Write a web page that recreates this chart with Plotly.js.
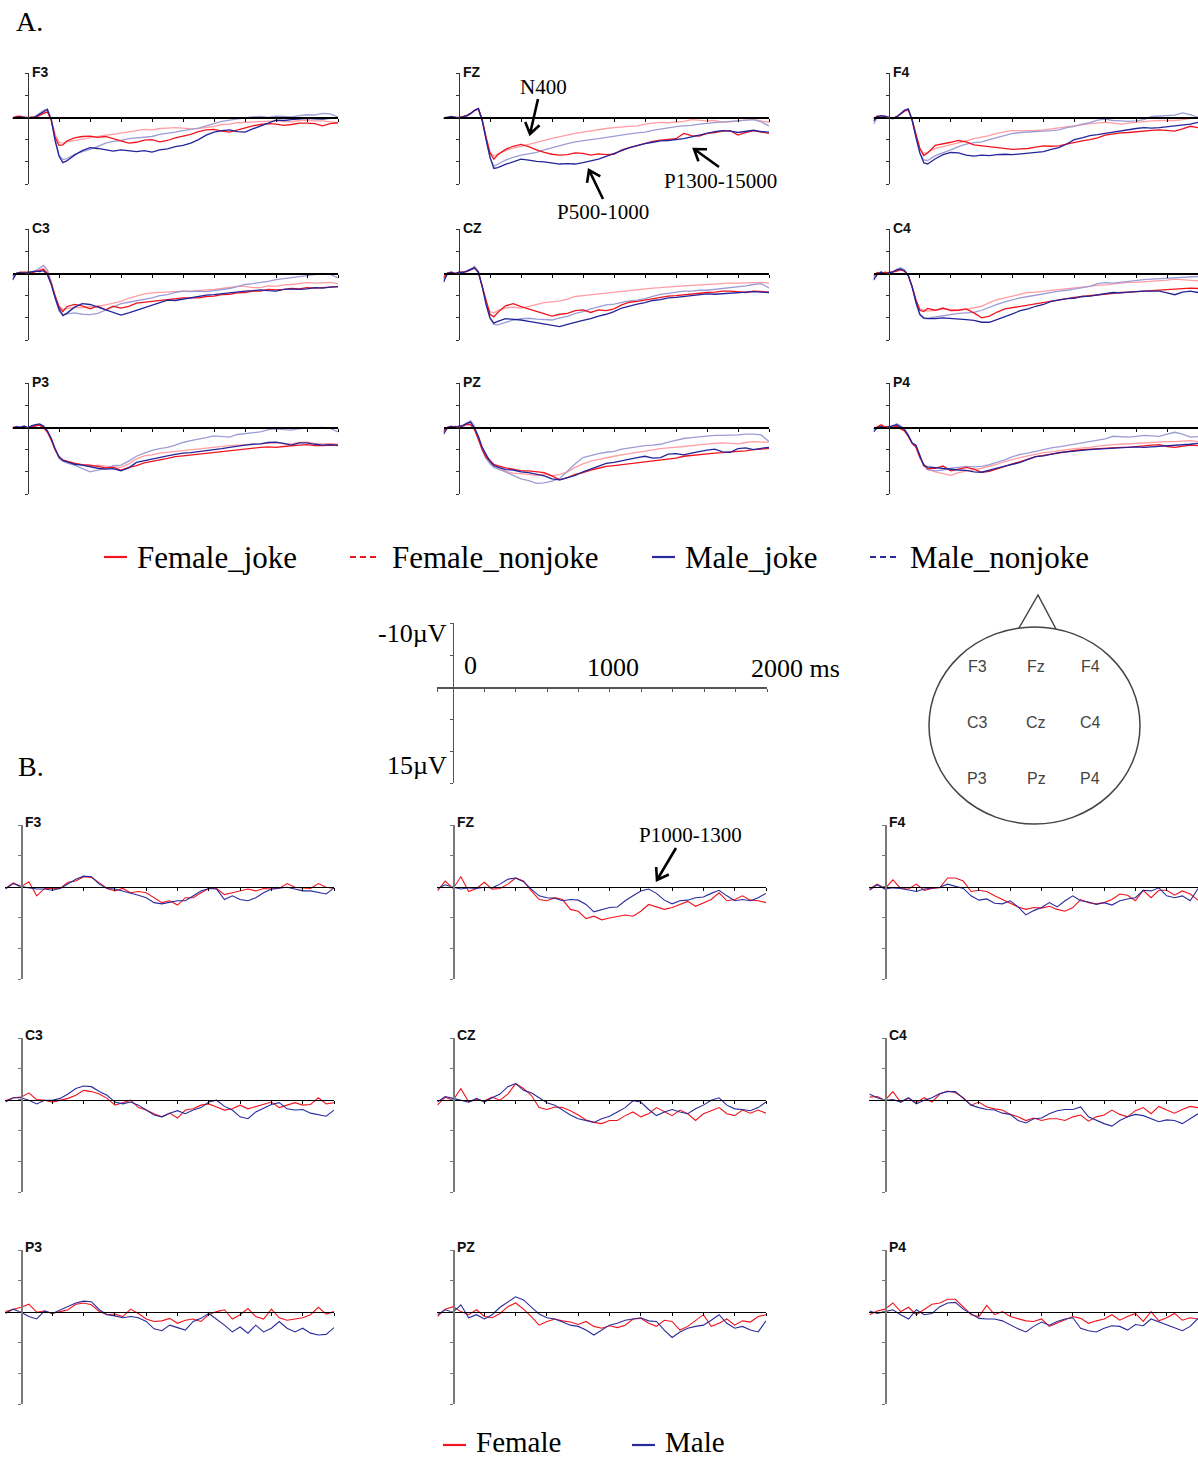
<!DOCTYPE html>
<html><head><meta charset="utf-8">
<script src="https://cdn.plot.ly/plotly-3.0.1.min.js"></script>
<style>html,body{margin:0;padding:0;background:#fff}#chart{width:1198px;height:1459px}</style>
</head><body><div id="chart"></div>
<script>
// ---------- time axes (ms) ----------
const T_A = [-100,-75,-50,-25,0,25,50,75,100,125,150,175,200,225,250,300,350,400,450,500,550,600,650,700,750,800,850,900,950,1000,1050,1100,1150,1200,1250,1300,1350,1400,1450,1500,1550,1600,1650,1700,1750,1800,1850,1900,1950,2000];
const T_B = [-100,-50,0,50,100,150,200,250,300,350,400,450,500,550,600,650,700,750,800,850,900,950,1000,1050,1100,1150,1200,1250,1300,1350,1400,1450,1500,1550,1600,1650,1700,1750,1800,1850,1900,1950,2000];
const CHANNELS = ['F3','FZ','F4','C3','CZ','C4','P3','PZ','P4'];
const LEGEND_A = ['Female_joke','Female_nonjoke','Male_joke','Male_nonjoke'];
const LEGEND_B = ['Female','Male'];

// ---------- Panel A (µV): fj=Female_joke, fn=Female_nonjoke, mj=Male_joke, mn=Male_nonjoke ----------
const A_F3_fj = [0.1,-0.2,-0.3,0,0.1,-0.1,0,-0.5,-0.9,-1.2,0.6,4.5,6.3,6.2,5.3,4.6,4.3,4.2,4.5,4.3,4.8,5.4,5.8,5.6,5.1,5.0,5.5,5.2,4.6,4.2,3.8,3.2,2.8,2.7,3.1,3.3,2.8,2.3,1.9,1.6,1.4,1.5,1.8,1.6,1.3,1.3,1.4,1.9,1.4,1.2];
const A_F3_fn = [0.2,0,0.1,-0.1,0,0.1,-0.2,-0.6,-1.0,-1.3,0.5,3.8,5.6,5.8,5.5,5.2,4.8,4.5,4.3,4.0,3.8,3.5,3.3,3.0,2.7,2.8,2.5,2.4,2.3,2.4,2.6,2.5,2.3,2.0,1.6,1.5,1.2,1.1,1.0,0.9,0.8,0.8,0.9,1.0,0.7,0.6,0.8,0.8,1.0,1.2];
const A_F3_mj = [0.3,0,-0.1,0.1,0.1,0.2,-0.2,-0.7,-1.3,-1.8,0.5,5.2,8.7,10.2,9.8,8.5,7.5,6.8,7,7.3,7.6,7.3,7.5,7.7,7.5,7.8,7.3,7.1,6.6,6.3,5.8,5.0,4.0,3.3,3.0,2.8,3.2,3.3,2.6,2.0,1.3,0.6,0.7,0.5,0.3,0.2,0.3,0.4,0.2,0.2];
const A_F3_mn = [0.2,-0.1,0.1,-0.2,0,0.1,-0.3,-0.9,-1.6,-1.9,0.5,5.0,8.5,9.5,9.3,8.3,7.8,7.2,6.6,5.8,5.4,5.2,4.8,4.6,4.4,4.3,3.8,3.6,3.3,3.0,2.7,2.4,1.9,1.4,0.9,0.6,0.3,0.1,-0.1,-0.2,0.0,-0.3,-0.2,-0.1,-0.4,-0.6,-0.5,-0.9,-0.8,-0.1];

const A_FZ_fj = [0.2,0,-0.1,0.2,0,-0.2,-0.4,-0.9,-1.6,-2.0,0.5,4.5,8,9.4,8.4,7.2,6.5,6.1,6.6,7.3,7.9,8.3,8.5,8.4,8.0,8.1,8.5,8.2,8.4,8.3,7.3,6.8,6.3,5.9,5.4,5.1,5.0,4.8,3.6,4.1,4.2,3.6,3.4,3.1,3.0,4.0,3.4,3.0,3.3,3.6];
const A_FZ_fn = [0.1,-0.1,0,-0.2,0.1,-0.1,-0.3,-0.8,-1.5,-1.9,0.7,4.5,7.8,8.7,8.2,7.5,6.9,6.5,6.1,5.7,5.2,4.7,4.3,4.0,3.6,3.3,3.0,2.7,2.5,2.3,2.1,2.0,1.9,1.5,1.3,1.1,1.2,1.0,0.9,0.5,0.6,0.8,0.7,1.1,1.0,0.8,0.6,0.4,0.8,1.1];
const A_FZ_mj = [0.3,0,-0.2,0,0.1,-0.1,-0.4,-0.9,-1.6,-2.0,0.8,5,9,11.5,11.3,10.6,10.0,9.4,9.6,9.9,10.0,10.2,10.5,10.4,10.5,10.2,9.8,9.4,8.8,8.2,7.5,6.8,6.3,5.9,5.6,5.3,5.2,5.0,4.8,4.4,4.0,3.5,3.2,3.0,3.1,3.4,3.2,2.9,3.2,3.3];
const A_FZ_mn = [0.2,-0.1,0.1,-0.1,0,-0.2,-0.3,-0.8,-1.5,-1.9,0.8,5,9,11,10.5,9.6,9.0,8.5,8.2,7.9,7.3,6.8,6.3,5.9,5.5,5.2,5.0,4.8,4.5,4.2,3.9,3.7,3.5,3.3,2.9,2.6,2.3,2.1,1.9,1.8,1.5,1.3,1.2,1.0,0.9,0.8,0.6,0.5,1.0,1.9];

const A_F4_fj = [0.3,-0.3,0,-0.2,0.1,0.2,-0.2,-0.7,-1.4,-1.7,0.5,4,7,8.6,8.0,6.3,6.0,5.6,5.2,5.5,6.2,6.4,6.5,6.7,7.0,7.2,7.1,7.0,6.7,6.4,6.5,6.4,6.0,5.6,5.3,5.0,4.6,4.0,3.7,3.5,3.4,3.2,3.0,2.9,2.8,2.9,3.1,2.6,2.0,2.3];
const A_F4_fn = [0.1,0,-0.3,0.1,0,0.1,-0.2,-0.7,-1.5,-1.8,0.6,4.2,7,8.1,7.9,7.0,6.6,6.2,5.8,5.3,4.8,4.5,4.1,3.6,3.2,3.0,3.0,3.0,2.9,2.8,2.6,2.3,2.2,2.0,1.7,1.4,1.2,1.1,1.3,1.5,1.3,1.1,1.0,0.8,0.7,0.7,0.7,0.5,0.3,0];
const A_F4_mj = [0.8,-0.2,-0.4,-0.3,0,0.3,-0.1,-0.8,-1.6,-1.9,0.7,4.5,8,10.2,10.5,9.3,8.4,7.9,8.0,8.5,8.7,8.5,8.6,8.4,8.3,8.4,8.2,8.1,7.9,7.7,7.2,6.8,6.0,5.0,4.6,4.1,3.9,3.6,3.3,3.0,2.8,2.5,2.3,2.4,2.3,2.1,1.9,1.8,1.5,1.1];
const A_F4_mn = [1.5,0,-0.3,-0.2,0,0.2,-0.1,-0.8,-1.6,-2.0,0.5,4.5,8,9.6,9.7,8.6,8.0,7.3,6.6,6.0,5.7,5.5,5.0,4.5,4.0,3.6,3.4,3.3,3.3,3.2,3.0,2.8,2.3,2.0,1.5,1.2,0.6,0.4,0.7,0.8,0.9,0.8,0.5,-0.2,-0.3,-0.4,-0.5,-1.0,-0.6,0];

const A_C3_fj = [0.5,0,-0.2,-0.3,-0.2,-0.1,-0.4,-0.6,-0.9,0,2.2,5,7.5,8.6,7.5,7.0,7.3,8.0,7.4,8.2,7.4,7.8,7.4,6.7,6.5,6.3,6.0,5.9,5.6,5.5,5.5,5.5,5.2,5.1,4.8,4.7,4.4,4.3,4.0,4.0,3.6,3.7,3.6,3.4,3.5,3.2,3.3,3.2,3.0,3.0];
const A_C3_fn = [0.3,0.1,-0.1,0,-0.2,-0.3,-0.5,-0.8,-1.1,-0.2,2.0,5,7.4,8.1,7.9,7.7,7.7,7.6,7.4,7.1,6.7,6.3,5.6,5.1,4.6,4.4,4.3,4.2,4.0,4.0,4.0,3.9,3.8,3.6,3.4,3.2,2.9,2.9,3.2,3.2,2.8,2.9,2.6,2.5,2.3,2.1,2.2,2.1,2.0,2.3];
const A_C3_mj = [1.5,0,-0.2,0,-0.2,-0.3,-0.5,-0.4,-0.6,0.3,2.5,5.5,8.0,9.5,9.0,7.6,6.8,7.0,7.6,8.1,8.7,9.4,8.9,8.3,7.8,7.1,6.6,6.0,6.1,5.8,5.4,5.2,4.9,4.8,4.6,4.3,4.2,4.0,3.9,3.7,3.9,4.0,3.6,3.5,3.6,3.5,3.2,3.3,3.1,3.0];
const A_C3_mn = [1.0,0.1,-0.3,-0.1,-0.3,-0.2,-0.6,-1.2,-1.8,-0.8,2,5.5,8.5,9.3,9.1,8.9,9.2,9.3,9.0,8.3,7.6,6.8,6.5,6.2,5.8,5.5,5.0,4.8,4.3,4.0,4.1,4.0,4.1,3.9,3.6,3.4,3.0,2.5,2.3,2.1,1.8,1.4,1.2,1.0,0.8,0.6,0.3,0.0,0.2,1.0];

const A_CZ_fj = [1.0,-0.1,-0.3,0,-0.2,-0.3,-0.4,-0.8,-1.3,-0.2,3,6.5,9.2,9.8,8.8,7.3,6.8,7.5,8.0,8.6,9.0,9.6,9.2,9.0,8.4,8.2,8.8,8.2,8.4,8.0,7.1,6.5,6.3,6.0,5.6,5.4,5.1,5.0,4.8,4.7,4.5,4.3,4.2,4.0,4.0,4.2,4.3,4.0,4.1,4.2];
const A_CZ_fn = [0.8,0,-0.2,0.1,-0.2,-0.2,-0.5,-0.9,-1.4,-0.4,3,6.5,8.6,8.9,8.3,7.8,7.6,7.8,7.4,7.0,6.6,6.4,6.2,5.8,5.2,5.0,4.8,4.7,4.5,4.3,4.1,3.9,3.7,3.5,3.3,3.2,3.0,2.9,2.8,2.7,2.5,2.4,2.3,2.3,2.2,2.2,2.1,2.1,2.0,2.2];
const A_CZ_mj = [2.0,0,-0.2,0.1,-0.3,-0.2,-0.5,-0.9,-1.2,-0.3,3,7,10,11.2,10.8,10.2,10.3,10.5,10.8,11.1,11.3,11.6,12.0,11.5,11.0,10.6,10.2,9.6,9.2,8.6,7.8,7.3,6.9,6.6,6.1,5.9,5.5,5.4,5.2,5.0,4.7,4.6,4.7,4.6,4.5,4.3,4.2,4.1,4.2,4.3];
const A_CZ_mn = [1.5,0.1,-0.3,0,-0.3,-0.1,-0.6,-1.0,-1.6,-0.5,3,7,10.2,11.5,11.6,11.0,10.5,10.2,10.1,10.3,10.4,10.5,10.0,9.7,9.0,8.6,8.0,7.5,7.1,6.9,6.5,6.2,6.0,5.7,5.2,4.7,4.5,4.3,4.0,4.0,3.8,3.8,3.6,3.4,3.3,3.0,2.8,2.5,2.3,3.3];

const A_C4_fj = [0.5,-0.2,0.1,-0.3,-0.1,-0.4,-0.5,-0.8,-0.5,0.5,3,6,8.3,8.6,7.9,8.3,7.8,8.4,8.3,8.0,8.9,10.0,9.6,8.7,8.0,7.7,7.4,7.2,6.8,6.5,6.2,5.9,5.6,5.4,5.2,5.0,4.8,4.6,4.4,4.3,4.2,4.1,4.0,3.9,3.8,3.7,3.5,3.4,3.3,3.4];
const A_C4_fn = [0.3,0,-0.2,0.1,-0.3,-0.2,-0.6,-0.9,-0.7,0.5,3,6,8.0,8.2,8.5,8.3,8.0,8.1,8.2,8.1,7.8,7.4,6.6,5.9,5.5,5.1,4.6,4.3,4.2,4.0,3.8,3.6,3.4,3.2,3.0,2.8,2.7,2.6,2.4,2.2,2.0,2.0,1.9,1.8,1.7,1.5,1.3,1.4,1.5,1.7];
const A_C4_mj = [1.5,0.2,-0.3,0.2,-0.2,-0.3,-0.8,-1.0,-0.6,0.5,3,6.5,9.2,10.0,10.2,10.2,10.0,10.1,10.2,10.4,10.6,11.0,11.0,10.4,9.8,9.1,8.4,8.0,7.4,7.0,6.3,6.0,5.7,5.6,5.2,5.1,4.8,4.5,4.3,4.4,4.2,4.1,4.0,4.0,4.0,4.4,4.8,4.2,4.0,4.3];
const A_C4_mn = [1.0,0,-0.3,0.1,-0.2,-0.4,-0.9,-1.3,-0.8,0.4,3,6.8,9.4,10.2,10.1,9.8,9.5,9.3,9.0,8.9,8.8,8.3,7.6,7.0,6.4,5.9,5.5,5.2,4.9,4.6,4.2,4.0,3.8,3.5,3.2,2.9,2.3,2.1,2.2,2.0,1.7,1.6,1.4,1.3,1.2,1.1,1.0,0.9,0.8,0.7];

const A_P3_fj = [0,-0.1,0.1,-0.2,0,-0.2,-0.4,-0.5,0,1,2.8,5,6.7,7.3,7.6,8.1,8.4,8.5,8.8,9.1,9.0,9.6,9.0,8.6,8.0,7.6,7.3,7.0,6.6,6.4,6.2,6.1,5.8,5.6,5.4,5.2,5.0,4.9,4.6,4.5,4.4,4.5,4.3,4.1,4.0,3.9,4.1,4.1,4.0,4.1];
const A_P3_fn = [0.1,0.2,-0.1,0,0.2,-0.1,-0.3,-0.5,0.2,1.2,3,5.2,6.5,7.4,7.6,8.1,8.5,8.8,8.5,8.7,8.8,9.0,8.2,7.1,6.4,6.2,5.8,5.6,5.4,5.2,5.0,4.9,4.6,4.5,4.3,4.1,4.0,3.9,3.8,3.7,3.6,3.5,3.7,3.7,3.4,3.3,3.6,3.7,3.6,3.8];
const A_P3_mj = [0.2,-0.1,0,-0.3,0.1,-0.4,-0.6,-0.8,-0.3,0.8,2.5,4.8,6.6,7.5,7.7,8.3,8.5,8.9,9.2,9.4,9.3,9.8,9.1,7.9,7.5,7.2,6.8,6.4,6.1,5.8,5.7,5.5,5.3,5.1,4.8,4.5,4.2,4.0,3.8,3.7,3.4,3.3,3.6,4.0,3.5,3.5,3.8,4.0,3.9,4.0];
const A_P3_mn = [0.3,-0.2,-0.1,0.1,0,-0.3,-0.5,-0.6,-0.2,0.7,2.5,5,7.0,7.6,8.0,8.5,9.2,10.0,9.6,9.3,8.6,8.5,7.6,6.5,5.8,5.2,4.8,4.5,4.0,3.4,3.0,2.7,2.3,1.9,2.1,2.2,1.6,1.4,1.2,1.0,0.5,0.3,0.5,0.6,0.3,0.1,0.1,0,0.2,1.0];

const A_PZ_fj = [0.8,0,-0.1,-0.2,-0.1,-0.3,-0.7,-0.6,0.5,2.8,5,6.8,7.6,8.3,8.6,9.1,9.4,9.8,9.8,10.0,10.2,10.9,11.8,11.3,10.6,10.2,9.6,9.2,8.8,8.6,8.4,8.2,7.9,7.8,7.6,7.4,7.2,6.9,6.5,6.3,6.1,5.9,5.8,5.7,5.5,5.4,5.3,5.0,4.9,4.7];
const A_PZ_fn = [0.5,0.1,-0.2,0,-0.1,-0.4,-0.8,-0.9,0.3,2.5,4.8,6.5,7.2,8.6,9.1,9.9,10.3,10.4,10.6,10.8,10.5,10.9,10.6,10.0,9.0,8.2,7.6,7.2,6.8,6.5,6.2,5.9,5.7,5.4,5.0,4.8,4.6,4.5,4.3,4.1,3.9,3.7,3.6,3.5,3.6,3.7,3.4,3.2,3.3,3.3];
const A_PZ_mj = [1.5,0.1,-0.2,0,-0.3,-0.4,-0.9,-1.2,0.2,2.0,4.5,6.2,7.7,8.6,8.9,9.5,9.6,10.0,10.2,10.5,10.9,11.6,11.8,11.3,10.8,10.0,9.4,8.7,8.1,7.9,7.5,7.2,6.8,6.5,6.9,6.8,6.0,5.9,6.2,5.8,5.4,5.1,4.9,5.5,5.6,4.8,4.6,5.0,4.7,4.5];
const A_PZ_mn = [1.0,0,-0.3,0.1,-0.2,-0.5,-1.0,-1.5,-0.3,2.5,5.2,7.0,8.2,9.0,9.3,10.0,10.8,11.6,12.0,12.6,12.5,12.1,11.5,9.8,8.2,6.8,6.3,5.9,5.6,5.4,4.9,4.6,4.3,4.1,4.0,3.8,3.3,2.9,2.5,2.3,2.1,1.9,1.8,1.8,1.8,1.7,1.5,1.5,1.7,3.2];

const A_P4_fj = [0.3,-0.2,-0.6,-0.1,-0.2,0,-0.3,0.3,0.8,2,3.6,4.5,6.8,8.3,9.3,9.2,8.7,9.8,9.4,9.0,9.4,10.1,9.9,9.3,8.7,8.2,7.7,7.2,6.6,6.3,6.0,5.7,5.5,5.2,5.0,4.9,4.8,4.7,4.5,4.5,4.5,4.3,4.1,4.0,3.9,4.3,4.5,4.2,4.0,4.1];
const A_P4_fn = [0.2,0,-0.3,0.1,-0.1,-0.2,-0.5,0,0.6,1.9,3.5,4.5,6.8,8.4,9.4,10.0,10.4,10.8,10.2,9.8,9.5,9.2,8.8,8.3,7.7,7.2,6.8,6.4,6.0,5.7,5.5,5.2,5.0,4.8,4.7,4.5,4.2,4.0,3.9,3.8,3.7,3.6,3.5,3.4,3.2,3.2,3.2,3.1,3.0,3.2];
const A_P4_mj = [1.0,0.1,-0.2,0.2,-0.1,-0.3,-0.6,-0.1,0.5,1.8,3.5,4.0,6.5,8.6,8.9,9.1,9.3,9.5,9.6,9.7,10.0,10.1,9.6,9.2,8.7,8.3,7.9,7.2,6.6,6.4,6.0,5.7,5.5,5.3,5.1,5.0,4.9,4.8,4.8,4.7,4.5,4.4,4.5,4.4,4.3,4.2,4.1,3.9,3.8,3.6];
const A_P4_mn = [0.6,0,-0.3,-0.2,0,-0.3,-0.8,-0.4,0.3,1.7,3.4,4.2,6.5,8.6,9.5,9.8,9.6,9.2,9.0,8.8,8.9,8.8,8.4,7.9,7.3,6.6,6.1,5.8,5.4,5.0,4.6,4.4,4.1,3.9,3.6,3.3,3.0,2.6,2.0,2.1,2.2,2.0,1.8,1.9,2.0,1.5,1.1,1.5,2.2,2.1];

// ---------- Panel B (µV): f=Female, m=Male ----------
const B_F3_f = [0.3,-0.6,0,-0.8,1.5,0.3,0.3,0.3,-0.7,-0.9,-1.6,-1.5,-0.6,0.3,0.7,0.3,1.0,0.8,1.0,1.8,2.6,2.3,3.0,1.8,1.8,1.0,0.3,0.3,1.3,1.0,0.7,0.4,0.7,0.3,0.4,0.3,-0.5,0.1,0.2,0.3,-0.5,0.1,0.3];
const B_F3_m = [0.4,-0.5,0,0.2,0.4,0.4,0.6,0.3,-0.4,-1.2,-1.7,-1.6,-0.4,0.3,0.4,0.7,1.0,1.4,1.8,2.6,2.8,2.6,2.3,2.3,1.5,0.7,0.3,0.4,2.1,1.5,2.1,2.3,1.8,1.0,0.4,0.3,0.1,0.4,0.7,0.7,1.0,1.2,0.2];
const B_FZ_f = [0.7,-0.9,0.3,-1.6,0.8,0.3,-0.7,0.4,0.3,-0.4,-1.4,-0.9,0.7,2.1,2.3,1.8,2.1,3.7,4.0,5.2,4.8,5.4,5.1,4.8,4.6,4.8,4.0,2.9,3.3,3.7,3.4,2.9,2.4,3.2,2.6,2.1,1.0,2.3,2.1,1.5,2.2,2.3,2.6];
const B_FZ_m = [0.3,-0.3,0.1,0.4,0.2,0.3,0.1,0.2,-0.4,-1.2,-1.4,-0.8,0.4,1.5,1.8,1.9,2.3,2.1,2.2,2.9,4.1,3.7,3.4,3.3,2.3,1.5,0.7,0.4,1.1,2.2,2.8,2.3,2.2,1.8,1.7,1.1,0.6,1.5,2.3,2.1,2.3,1.8,1.1];
const B_F4_f = [0.4,-0.4,0.3,-1.1,0.3,0.4,-0.4,0.6,0.3,0.2,-1.4,-1.4,-0.9,0.8,0.6,0.8,1.5,2.1,2.8,3.3,3.7,3.4,3.5,3.2,3.7,4.0,3.4,2.1,2.6,2.8,2.6,2.1,1.2,1.4,2.3,0.6,1.8,0.6,0.6,1.4,0.7,1.2,2.2];
const B_F4_m = [0.6,-0.3,0.4,0.2,0.3,0.6,0.8,0.4,0.2,0.1,-0.4,-0.1,0.3,1.5,2.2,2.0,2.7,2.8,2.3,3.3,4.6,3.9,3.4,2.6,3.3,2.3,1.5,2.3,2.5,2.9,2.6,3.0,2.3,2.0,1.8,0.6,0.7,0.2,1.5,1.8,1.5,2.3,0.3];
const B_C3_f = [0.2,-0.3,-0.4,-1.1,0,0.1,0.4,0.1,-0.2,-0.7,-1.5,-1.3,-0.9,-0.2,0.9,0.5,0.1,1.3,1.7,2.3,2.8,2.2,3.0,1.7,1.5,0.9,0.7,1.2,1.7,1.5,0.9,1.5,1.1,0.8,0.4,1.3,0.9,0.5,0.9,0.8,-0.3,0.7,0.5];
const B_C3_m = [0.4,-0.3,-0.3,0.1,0.7,0.1,0.1,-0.2,-0.9,-1.8,-2.2,-2.1,-1.3,-0.7,0.4,0.7,0.4,0.9,1.7,2.5,2.8,2.2,1.8,2.3,1.7,1.3,0.4,0.1,1.1,1.7,2.8,3.1,2.0,1.4,0.8,0.5,1.5,1.7,1.6,2.2,2.4,2.7,1.7];
const B_CZ_f = [0.9,-0.4,0.1,-1.8,0.4,0,0.2,-0.4,0.1,-0.9,-2.6,-1.8,-0.7,1.3,1.6,1.2,1.3,1.8,2.5,3.3,3.7,3.9,3.4,3.4,2.6,2.0,2.8,2.3,1.3,2.0,2.6,1.7,2.3,3.4,2.3,1.8,1.3,2.3,2.6,1.7,2.2,1.7,2.2];
const B_CZ_m = [0.4,-0.5,-0.2,0.1,0.4,-0.2,0.4,-0.3,-0.9,-2.1,-2.6,-1.5,-1.1,-0.3,0.5,0.9,1.7,2.5,3.1,3.4,3.7,3.1,2.7,2.0,1.3,0.2,0.4,1.6,2.6,2.0,1.6,2.0,2.3,1.5,0.9,0.1,-0.3,0.9,1.5,1.6,1.8,1.3,0.4];
const B_C4_f = [-0.4,-0.5,0.1,-1.3,0.4,-0.2,0.5,-0.3,0.4,-0.9,-1.4,-1.1,-0.3,0.9,0.4,1.2,1.5,1.7,2.4,2.8,3.4,3.0,3.4,3.1,3.1,3.4,2.8,2.5,3.5,2.8,2.5,1.7,2.4,2.8,1.8,1.3,2.3,1.1,1.7,2.2,1.6,1.1,1.3];
const B_C4_m = [-0.9,-0.3,0.1,0,0.4,-0.3,0.7,0.1,-0.3,-1.0,-1.3,-1.3,-0.2,0.9,1.3,1.6,1.7,2.2,2.4,3.4,3.8,3.1,3.0,2.3,1.8,1.6,1.6,1.2,2.8,3.4,3.9,4.3,3.4,2.8,2.4,2.6,3.1,3.6,3.3,3.4,3.9,3.1,2.3];
const B_P3_f = [0,-0.3,-0.7,-1.2,0.1,-0.1,0.3,0,-0.3,-1.2,-1.4,-1.1,0,0.5,0.4,0.8,-0.4,0.3,1.2,1.6,1.5,1.1,1.9,1.4,1.2,1.6,0.5,0,-0.3,1.2,0.5,-0.5,0.8,1.2,-0.4,1.0,1.4,1.2,1.0,0.5,-0.7,0.4,0];
const B_P3_m = [0.3,-0.4,0.1,0.8,1.2,-0.1,0.3,-0.3,-0.8,-1.4,-1.7,-1.6,-0.3,0.5,0.7,1.0,0.8,1.0,1.6,2.8,3.1,2.2,2.6,3.0,1.6,1.1,0.3,1.2,2.2,3.3,2.5,3.5,2.2,3.3,2.7,1.6,2.7,3.3,2.7,3.5,3.8,3.7,2.6];
const B_PZ_f = [0.8,-0.4,-0.8,0,0.5,-0.3,0.8,1.0,0.3,-0.8,-1.4,-0.4,0.8,2.2,1.6,1.2,1.5,1.7,2.1,1.6,2.4,2.7,2.3,2.6,2.2,1.2,1.1,1.9,2.4,1.4,1.6,3.0,2.4,1.5,0.5,2.4,1.9,1.2,2.2,1.5,1.7,0.8,0.5];
const B_PZ_m = [0.5,-0.3,0.1,-1.1,1.0,0.5,1.2,0.5,-0.7,-1.6,-2.4,-1.9,-0.7,0.4,1.0,1.2,1.7,2.2,2.4,3.0,3.8,3.0,2.2,1.9,1.4,1.2,1.0,1.5,1.6,3.0,4.2,3.3,2.7,2.4,2.2,1.4,0.5,1.9,2.7,2.4,3.0,3.3,1.5];
const B_P4_f = [0.5,-0.1,-0.4,-1.4,0,-0.7,0.5,-0.4,-1.2,-1.4,-2.0,-2.0,-0.8,0.5,0.8,-1.0,0.5,0,0.8,1.2,1.5,1.6,1.2,2.4,1.9,1.4,0.8,1.1,1.9,1.5,1.2,0.5,1.4,0.8,0.3,1.6,0,1.5,1.0,0.3,1.4,1.0,1.2];
const B_P4_m = [-0.1,0.3,0,-0.3,0.5,1.2,-0.3,0.5,0.3,-0.8,-1.4,-1.5,-0.4,0.4,1.1,1.2,1.2,1.5,2.2,2.8,3.3,2.4,1.7,2.2,1.6,1.2,1.0,2.7,3.1,3.3,2.7,2.3,2.4,3.0,2.1,2.3,1.2,1.7,2.2,2.7,3.1,2.4,1.1];

const A_DATA = {
  F3:{fj:A_F3_fj,fn:A_F3_fn,mj:A_F3_mj,mn:A_F3_mn}, FZ:{fj:A_FZ_fj,fn:A_FZ_fn,mj:A_FZ_mj,mn:A_FZ_mn}, F4:{fj:A_F4_fj,fn:A_F4_fn,mj:A_F4_mj,mn:A_F4_mn},
  C3:{fj:A_C3_fj,fn:A_C3_fn,mj:A_C3_mj,mn:A_C3_mn}, CZ:{fj:A_CZ_fj,fn:A_CZ_fn,mj:A_CZ_mj,mn:A_CZ_mn}, C4:{fj:A_C4_fj,fn:A_C4_fn,mj:A_C4_mj,mn:A_C4_mn},
  P3:{fj:A_P3_fj,fn:A_P3_fn,mj:A_P3_mj,mn:A_P3_mn}, PZ:{fj:A_PZ_fj,fn:A_PZ_fn,mj:A_PZ_mj,mn:A_PZ_mn}, P4:{fj:A_P4_fj,fn:A_P4_fn,mj:A_P4_mj,mn:A_P4_mn}
};
const B_DATA = {
  F3:{f:B_F3_f,m:B_F3_m}, FZ:{f:B_FZ_f,m:B_FZ_m}, F4:{f:B_F4_f,m:B_F4_m},
  C3:{f:B_C3_f,m:B_C3_m}, CZ:{f:B_CZ_f,m:B_CZ_m}, C4:{f:B_C4_f,m:B_C4_m},
  P3:{f:B_P3_f,m:B_P3_m}, PZ:{f:B_PZ_f,m:B_PZ_m}, P4:{f:B_P4_f,m:B_P4_m}
};

// ---------- layout helpers ----------
const W = 1198, H = 1459;
const X0 = -100, X1 = 2000, YTOP = -10, YBOT = 15;
const px = v => v / W;
const py = v => 1 - v / H;
const COL = {fj:'#f0141e', fn:'#ff9ea3', mj:'#24249a', mn:'#9c9cd6'};
const RED = '#f0141e', BLUE = '#2a2a9c';
const SERIF = 'Liberation Serif, Times New Roman, serif';
const SANS = 'Liberation Sans, Arial, sans-serif';

const traces = [];
const layout = {
  width: W, height: H, margin:{l:0,r:0,t:0,b:0},
  paper_bgcolor:'#fff', plot_bgcolor:'rgba(0,0,0,0)',
  showlegend:false, font:{family:SERIF, color:'#000'},
  shapes:[], annotations:[]
};
let axN = 0;
function addPanel(left, right, top, bottom, yLine, yWidth) {
  axN++;
  const k = axN === 1 ? '' : String(axN);
  const zeroXpx = left + (right - left) * (0 - X0) / (X1 - X0);
  const zeroYpx = top + (bottom - top) * (0 - YTOP) / (YBOT - YTOP);
  layout['xaxis' + k] = {
    domain:[px(left), px(Math.min(right, W))], range:[X0, X1], anchor:'free', position: py(zeroYpx),
    showline:true, linecolor:'#000', linewidth:1.2, ticks:'outside', ticklen:3, tickwidth:1, tickcolor:'#000',
    tickvals:[200,400,600,800,1000,1200,1400,1600,1800,2000], showticklabels:false, showgrid:false, zeroline:false, fixedrange:true
  };
  layout['yaxis' + k] = {
    domain:[py(bottom), py(top)], range:[YBOT, YTOP], anchor:'free', position: px(zeroXpx), side:'left',
    showline:true, linecolor:yLine, linewidth:yWidth, ticks:'outside', ticklen:3, tickwidth:1, tickcolor:yLine,
    tickvals:[-10,-5,0,5,10,15], showticklabels:false, showgrid:false, zeroline:false, fixedrange:true
  };
  return {x:'x' + k, y:'y' + k, zeroXpx};
}
function label(text, x, y, size, opts) {
  layout.annotations.push(Object.assign({text, x:px(x), y:py(y), xref:'paper', yref:'paper', showarrow:false,
    xanchor:'left', yanchor:'middle', font:{family:SERIF, size, color:'#000'}}, opts || {}));
}

// ---------- Panel A ----------
const A_COLS = [28, 459, 889], A_TOPS = [73, 229, 383], A_H = 111;
CHANNELS.forEach((ch, i) => {
  const ax = A_COLS[i % 3], top = A_TOPS[Math.floor(i / 3)];
  const sp = addPanel(ax - 15.5, ax + 310, top, top + A_H, '#333', 1);
  ['fn','mn','fj','mj'].forEach(s => traces.push({type:'scatter', mode:'lines', x:T_A, y:A_DATA[ch][s],
    xaxis:sp.x, yaxis:sp.y, line:{color:COL[s], width:1.3}, hoverinfo:'skip'}));
  label('<b>' + ch + '</b>', ax + 2, top - 1, 14, {font:{family:SANS, size:14, color:'#111'}});
});

// ---------- Panel B ----------
const B_COLS = [21, 453, 885], B_TOPS = [825, 1038, 1250], B_H = 154;
CHANNELS.forEach((ch, i) => {
  const ax = B_COLS[i % 3], top = B_TOPS[Math.floor(i / 3)];
  const sp = addPanel(ax - 15.6, ax + 313, top, top + B_H, '#7a7a7a', 1.6);
  traces.push({type:'scatter', mode:'lines', x:T_B, y:B_DATA[ch].f, xaxis:sp.x, yaxis:sp.y, line:{color:RED, width:1.1}, hoverinfo:'skip'});
  traces.push({type:'scatter', mode:'lines', x:T_B, y:B_DATA[ch].m, xaxis:sp.x, yaxis:sp.y, line:{color:BLUE, width:1.1}, hoverinfo:'skip'});
  label('<b>' + ch + '</b>', ax + 2, top - 3, 14, {font:{family:SANS, size:14, color:'#111'}});
});

// ---------- scale bar ----------
const sb = addPanel(437, 767, 623, 783, '#555', 1.5);
layout['xaxis' + axN].linecolor = '#555';
layout['xaxis' + axN].tickcolor = '#555';
layout['xaxis' + axN].linewidth = 1.5;
layout['xaxis' + axN].tickvals = [-100,200,400,600,800,1000,1200,1400,1600,1800,2000];
traces.push({type:'scatter', mode:'lines', x:[null], y:[null], xaxis:sb.x, yaxis:sb.y, hoverinfo:'skip'});
label('-10µV', 449, 633, 26, {xanchor:'right'});
label('15µV', 449, 765, 26, {xanchor:'right'});
label('0', 470, 665, 26, {xanchor:'center'});
label('1000', 613, 667, 26, {xanchor:'center'});
label('2000 ms', 749, 669, 26);

// ---------- panel letters ----------
label('A.', 14, 22, 28);
label('B.', 16, 767, 28);

// ---------- legends ----------
function legLine(x0, x1, y, color, dash) {
  layout.shapes.push({type:'line', xref:'paper', yref:'paper', x0:px(x0), x1:px(x1), y0:py(y), y1:py(y),
    line:{color, width:2.2, dash: dash ? '6px,4px' : 'solid'}});
}
legLine(104, 127, 557, RED, false);   label(LEGEND_A[0], 135, 557, 31);
legLine(350, 380, 557, RED, true);    label(LEGEND_A[1], 390, 557, 31);
legLine(652, 675, 557, BLUE, false);  label(LEGEND_A[2], 683, 557, 31);
legLine(870, 900, 557, BLUE, true);   label(LEGEND_A[3], 908, 557, 31);
legLine(443, 466, 1445, RED, false);  label(LEGEND_B[0], 474, 1442, 29);
legLine(632, 655, 1445, BLUE, false); label(LEGEND_B[1], 663, 1442, 29);

// ---------- arrows ----------
function arrow(tx, ty, hx, hy) {
  const dx = hx - tx, dy = hy - ty, L = Math.hypot(dx, dy), ux = dx / L, uy = dy / L, a = 0.6, s = 13;
  const w1x = hx - s * (ux * Math.cos(a) - uy * Math.sin(a)), w1y = hy - s * (uy * Math.cos(a) + ux * Math.sin(a));
  const w2x = hx - s * (ux * Math.cos(a) + uy * Math.sin(a)), w2y = hy - s * (uy * Math.cos(a) - ux * Math.sin(a));
  const P = (x, y) => px(x).toFixed(5) + ',' + py(y).toFixed(5);
  layout.shapes.push({type:'path', xref:'paper', yref:'paper',
    path:'M' + P(tx, ty) + 'L' + P(hx, hy) + 'M' + P(w1x, w1y) + 'L' + P(hx, hy) + 'L' + P(w2x, w2y),
    line:{color:'#000', width:2.6}});
}
label('N400', 543, 87, 21, {xanchor:'center'});
arrow(538, 99, 530, 134);
label('P500-1000', 603, 212, 21, {xanchor:'center'});
arrow(603, 199, 589, 170);
label('P1300-15000', 720, 181, 21, {xanchor:'center'});
arrow(719, 167, 694, 149);
label('P1000-1300', 690, 835, 21, {xanchor:'center'});
arrow(676, 848, 657, 880);

// ---------- head diagram ----------
layout.shapes.push({type:'circle', xref:'paper', yref:'paper', x0:px(929), x1:px(1140), y0:py(824), y1:py(627),
  line:{color:'#444', width:1.5}});
layout.shapes.push({type:'path', xref:'paper', yref:'paper',
  path:'M' + px(1019) + ',' + py(628) + 'L' + px(1038) + ',' + py(595) + 'L' + px(1056) + ',' + py(629),
  line:{color:'#444', width:1.5}});
const HEAD = [['F3',977,666],['Fz',1036,666],['F4',1090,666],['C3',977,722],['Cz',1036,722],['C4',1090,722],['P3',977,778],['Pz',1036,778],['P4',1090,778]];
HEAD.forEach(h => label(h[0], h[1], h[2], 16, {xanchor:'center', font:{family:'Liberation Sans Narrow, Arial Narrow, ' + SANS, size:16, color:'#444'}}));

Plotly.newPlot('chart', traces, layout, {displayModeBar:false, staticPlot:true});
</script>
</body></html>
